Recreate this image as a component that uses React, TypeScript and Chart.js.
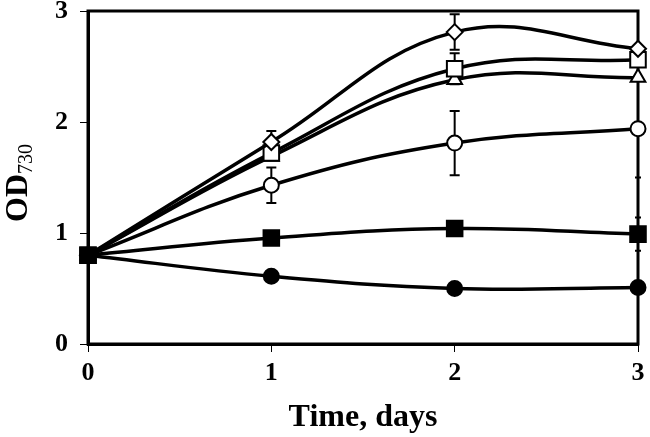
import React, { useEffect, useRef } from "react";
import { Chart, registerables } from "chart.js";

Chart.register(...registerables);

const days = [0, 1, 2, 3];
const xTicks = [0, 1, 2, 3];
const yTicks = [0, 1, 2, 3];

const filledSquare = [0.8, 0.955, 1.04, 0.99];
const filledSquareErr = [0, 0, 0, 0.15];
const filledCircle = [0.8, 0.61, 0.5, 0.51];
const filledCircleErr = [0, 0, 0, 0];
const diamond = [0.8, 1.82, 2.81, 2.66];
const diamondErr = [0, 0.1, 0.16, 0];
const openSquare = [0.8, 1.72, 2.48, 2.56];
const openSquareErr = [0, 0.04, 0.14, 0];
const triangle = [0.8, 1.69, 2.38, 2.4];
const triangleErr = [0, 0, 0, 0];
const openCircle = [0.8, 1.43, 1.81, 1.94];
const openCircleErr = [0, 0.16, 0.29, 0.44];

const xTitle = "Time, days";
const yTitleMain = "OD";
const yTitleSub = "730";

const SERIF = "'Liberation Serif', 'Times New Roman', serif";

const errorBarPlugin = {
  id: "errorBars",
  beforeDatasetsDraw(chart: any) {
    const ctx = chart.ctx;
    const xs = chart.scales.x;
    const ys = chart.scales.y;
    ctx.save();
    ctx.strokeStyle = "#000";
    ctx.lineWidth = 2;
    chart.data.datasets.forEach((ds: any) => {
      const errs: number[] = ds.errors || [];
      ds.data.forEach((p: any, i: number) => {
        const e = errs[i];
        if (!e) return;
        const px = xs.getPixelForValue(p.x);
        const top = ys.getPixelForValue(p.y + e);
        const bot = ys.getPixelForValue(p.y - e);
        const cap = p.x === 3 ? 3 : 5;
        ctx.beginPath();
        ctx.moveTo(px, top);
        ctx.lineTo(px, bot);
        ctx.moveTo(px - cap, top);
        ctx.lineTo(px + cap, top);
        ctx.moveTo(px - cap, bot);
        ctx.lineTo(px + cap, bot);
        ctx.stroke();
      });
    });
    ctx.restore();
  },
};

const framePlugin = {
  id: "frame",
  beforeDatasetsDraw(chart: any) {
    const { ctx, chartArea } = chart;
    ctx.save();
    ctx.strokeStyle = "#000";
    ctx.lineWidth = 3;
    ctx.strokeRect(chartArea.left, chartArea.top, chartArea.right - chartArea.left, chartArea.bottom - chartArea.top);
    ctx.restore();
  },
};

const yTitlePlugin = {
  id: "yTitle",
  afterDraw(chart: any) {
    const ctx = chart.ctx;
    ctx.save();
    const mainFont = `bold 32px ${SERIF}`;
    const subFont = `20px ${SERIF}`;
    ctx.font = mainFont;
    const w1 = ctx.measureText(yTitleMain).width;
    ctx.font = subFont;
    const w2 = ctx.measureText(yTitleSub).width;
    const total = w1 + w2;
    ctx.translate(27, 183);
    ctx.rotate(-Math.PI / 2);
    ctx.fillStyle = "#000";
    ctx.textBaseline = "alphabetic";
    ctx.textAlign = "left";
    ctx.font = mainFont;
    ctx.fillText(yTitleMain, -total / 2, 0);
    ctx.font = subFont;
    ctx.fillText(yTitleSub, -total / 2 + w1, 5);
    ctx.restore();
  },
};

function mk(values: number[], errs: number[], style: string, radius: number, filled: boolean) {
  return {
    data: days.map((d, i) => ({ x: d, y: values[i] })),
    errors: errs,
    borderColor: "#000",
    borderWidth: 3.5,
    tension: 0.4,
    fill: false,
    clip: false,
    pointStyle: style,
    pointRadius: radius,
    pointBorderWidth: 2,
    pointBorderColor: "#000",
    pointBackgroundColor: filled ? "#000" : "#fff",
  };
}

export default function App() {
  const ref = useRef<HTMLCanvasElement>(null);
  useEffect(() => {
    if (!ref.current) return;
    const chart = new Chart(ref.current, {
      type: "line",
      data: {
        datasets: [
          mk(filledSquare, filledSquareErr, "rect", 11, true),
          mk(filledCircle, filledCircleErr, "circle", 7.5, true),
          mk(diamond, diamondErr, "rectRot", 8, false),
          mk(openSquare, openSquareErr, "rect", 11, false),
          mk(triangle, triangleErr, "triangle", 8.5, false),
          mk(openCircle, openCircleErr, "circle", 7.5, false),
        ] as any,
      },
      options: {
        responsive: false,
        animation: false,
        layout: { padding: { top: 11, right: 12, left: 0, bottom: 0 }, autoPadding: false },
        plugins: { legend: { display: false }, tooltip: { enabled: false } },
        scales: {
          x: {
            type: "linear",
            min: 0,
            max: 3,
            afterBuildTicks: (s: any) => { s.ticks = xTicks.map((v) => ({ value: v })); },
            afterFit: (s: any) => { s.height = 93; s.paddingLeft = 0; s.paddingRight = 0; },
            ticks: { color: "#000", padding: 6, font: { family: SERIF, size: 26, weight: "bold" } },
            grid: { drawOnChartArea: false, drawTicks: true, tickLength: 8, tickColor: "#000", tickWidth: 1 },
            border: { display: true, color: "#000", width: 3 },
            title: { display: true, text: xTitle, color: "#000", padding: { top: 0, bottom: 0 }, font: { family: SERIF, size: 32, weight: "bold" } },
          },
          y: {
            type: "linear",
            min: 0,
            max: 3,
            afterBuildTicks: (s: any) => { s.ticks = yTicks.map((v) => ({ value: v })); },
            afterFit: (s: any) => { s.width = 88; s.paddingTop = 0; s.paddingBottom = 0; },
            ticks: { color: "#000", padding: 12, font: { family: SERIF, size: 26, weight: "bold" } },
            grid: { drawOnChartArea: false, drawTicks: true, tickLength: 8, tickColor: "#000", tickWidth: 1 },
            border: { display: true, color: "#000", width: 3 },
          },
        },
      } as any,
      plugins: [errorBarPlugin, framePlugin, yTitlePlugin],
    });
    return () => chart.destroy();
  }, []);
  return (
    <div style={{ position: "fixed", left: 0, top: 0, width: 650, height: 437, background: "#fff" }}>
      <canvas ref={ref} width={650} height={437} style={{ width: 650, height: 437 }} />
    </div>
  );
}
